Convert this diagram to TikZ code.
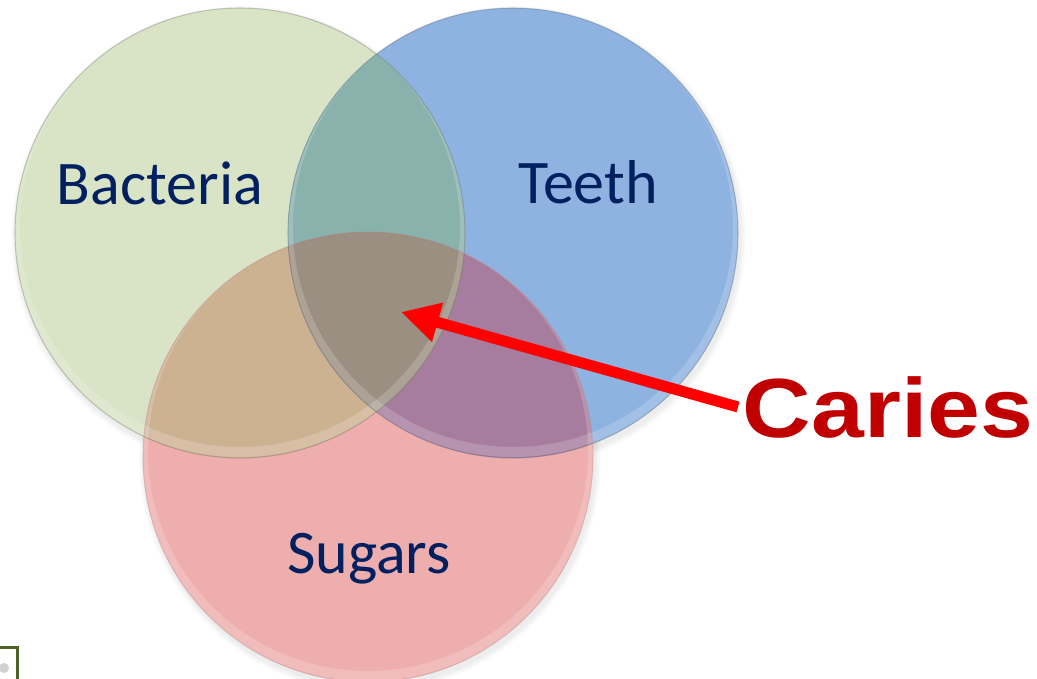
\documentclass[tikz,border=0pt]{standalone}
\usepackage{fontspec}
\setmainfont{Carlito}
\newfontfamily\cariesfont{Liberation Sans}
\usetikzlibrary{arrows.meta}
\definecolor{cgreen}{RGB}{216,228,197}
\definecolor{cblue}{RGB}{142,179,224}
\definecolor{cpink}{RGB}{239,174,174}
\definecolor{cteal}{RGB}{137,178,173}
\definecolor{ctan}{RGB}{205,178,146}
\definecolor{cpurple}{RGB}{166,125,158}
\definecolor{ctriple}{RGB}{154,143,128}
\definecolor{navy}{RGB}{0,32,96}
\definecolor{cariesred}{RGB}{192,0,0}
\definecolor{iconframe}{RGB}{79,97,40}
\tikzset{
  label/.style={font=\fontsize{62}{62}\selectfont, text=navy, anchor=base, inner sep=0pt},
  cariestext/.style={font=\cariesfont\bfseries\fontsize{84}{84}\selectfont, xscale=1.13, anchor=base, inner sep=0pt},
  rim/.style={draw=#1, line width=1.1pt, draw opacity=0.32},
  pointer/.style={draw=red, line width=11pt, -{Triangle[length=38pt,width=38pt]}}
}
\begin{document}
\begin{tikzpicture}[x=1pt,y=-1pt]
\useasboundingbox (0,0) rectangle (1037,679);
\clip (0,0) rectangle (1037,679);
\fill[white] (0,0) rectangle (1037,679);
\def\R{225}
\coordinate (cB) at (240,233);
\coordinate (cT) at (513,233);
\coordinate (cS) at (368,457);
% soft shadows
\foreach \k in {1,...,6}{
  \fill[black, opacity=0.012] ([shift={(2,4)}]cB) circle ({\R+\k});
  \fill[black, opacity=0.012] ([shift={(2,4)}]cT) circle ({\R+\k});
  \fill[black, opacity=0.012] ([shift={(2,4)}]cS) circle ({\R+\k});
}
% base circles
\fill[cgreen] (cB) circle (\R);
\fill[cblue] (cT) circle (\R);
\fill[cpink] (cS) circle (\R);
% overlaps
\begin{scope}
  \clip (cB) circle (\R);
  \fill[cteal] (cT) circle (\R);
  \fill[ctan] (cS) circle (\R);
\end{scope}
\begin{scope}
  \clip (cT) circle (\R);
  \fill[cpurple] (cS) circle (\R);
\end{scope}
\begin{scope}
  \clip (cB) circle (\R);
  \clip (cT) circle (\R);
  \fill[ctriple] (cS) circle (\R);
\end{scope}
% highlights near top edges
\foreach \c in {cB,cT,cS}{
  \begin{scope}
    \clip (\c) circle (\R);
    \draw[white, line width=10pt, opacity=0.18] ([yshift=6]\c) circle (\R);
  \end{scope}
}
% rims
\draw[rim=black!55!cgreen] (cB) circle (\R);
\draw[rim=black!50!cblue] (cT) circle (\R);
\draw[rim=black!25!cpink] (cS) circle (\R);
% labels
\node[label] (bacteria) at (160,205) {Bacteria};
\node[label] (teeth) at (588,204) {Teeth};
\node[label] (sugars) at (369,573) {Sugars};
% Caries
\node[cariestext, text=cariesred] (caries) at (888,437) {Caries};
% arrow
\coordinate (tail) at (738,407);
\coordinate (tip) at (401,312);
\draw[pointer] (tail) -- (tip);
% small icon at bottom left
\draw[iconframe, line width=3pt] (-10,647) -- (17,647) -- (17,690);
\fill[gray!35] (4,668) circle (5);
\end{tikzpicture}
\end{document}
